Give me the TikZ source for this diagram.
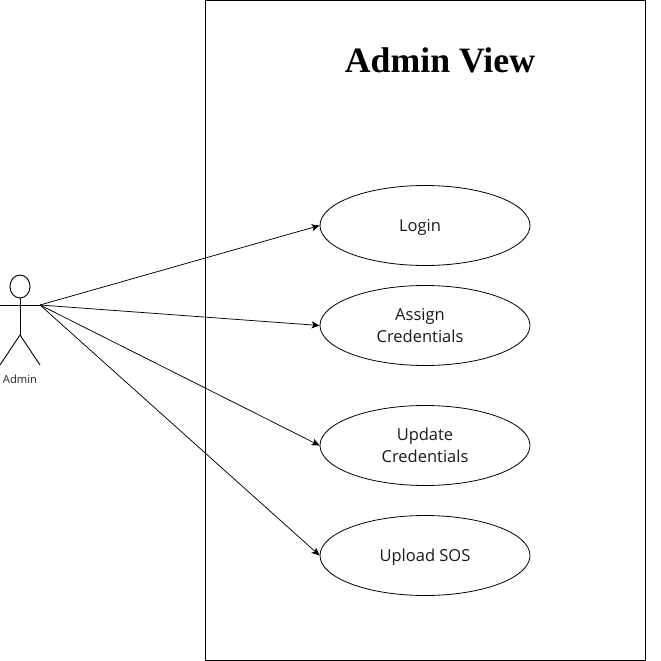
\documentclass[tikz,border=0pt]{standalone}
\usepackage{fontspec}
\setmainfont{Open Sans}
\newfontfamily\titlefont{Liberation Serif}
\usetikzlibrary{arrows.meta,shapes.geometric}
\tikzset{
  usecase/.style={draw,ellipse,line width=0.8pt,minimum width=210pt,minimum height=80pt,inner sep=0pt},
  rotulo/.style={align=center,inner sep=0pt,text=black!90,font=\fontsize{16.5}{21.5}\selectfont},
  flecha/.style={->,line width=0.75pt},
  monigote/.style={line width=0.9pt}
}
\begin{document}
\begin{tikzpicture}[x=1pt,y=-1pt,>={Stealth[length=8pt,width=7pt,inset=2pt]}]
  \useasboundingbox (0,0) rectangle (661,661);
  % Sistema
  \draw[line width=0.9pt] (205.5,0.5) rectangle (645.5,660.5);
  \node[font=\titlefont\bfseries\fontsize{35.7}{42}\selectfont] (titulo) at (440,60) {Admin View};

  % Actor
  \draw[monigote] (20,286.5) ellipse (10pt and 11.5pt);
  \draw[monigote] (20,298) -- (20,335);
  \draw[monigote] (0,305) -- (40,305);
  \draw[monigote] (0,365) -- (20,335) -- (40,365);
  \coordinate (mano) at (40,305);
  \node[font=\fontsize{11.2}{13}\selectfont,text=black!85] (admin) at (20,379) {Admin};

  % Casos de uso
  \node[usecase] (login) at (425,225.5) {};
  \node[usecase] (assign) at (425,325.5) {};
  \node[usecase] (update) at (425,445.5) {};
  \node[usecase] (upload) at (425,555.5) {};
  \node[rotulo] (loginTexto) at (420,227.5) {Login};
  \node[rotulo] (assignTexto) at (420,325.5) {Assign\\Credentials};
  \node[rotulo] (updateTexto) at (425,445.5) {Update\\Credentials};
  \node[rotulo] (uploadTexto) at (425,557) {Upload SOS};

  % Conectores
  \draw[flecha] (mano) -- (login.west);
  \draw[flecha] (mano) -- (assign.west);
  \draw[flecha] (mano) -- (update.west);
  \draw[flecha] (mano) -- (upload.west);
\end{tikzpicture}
\end{document}
